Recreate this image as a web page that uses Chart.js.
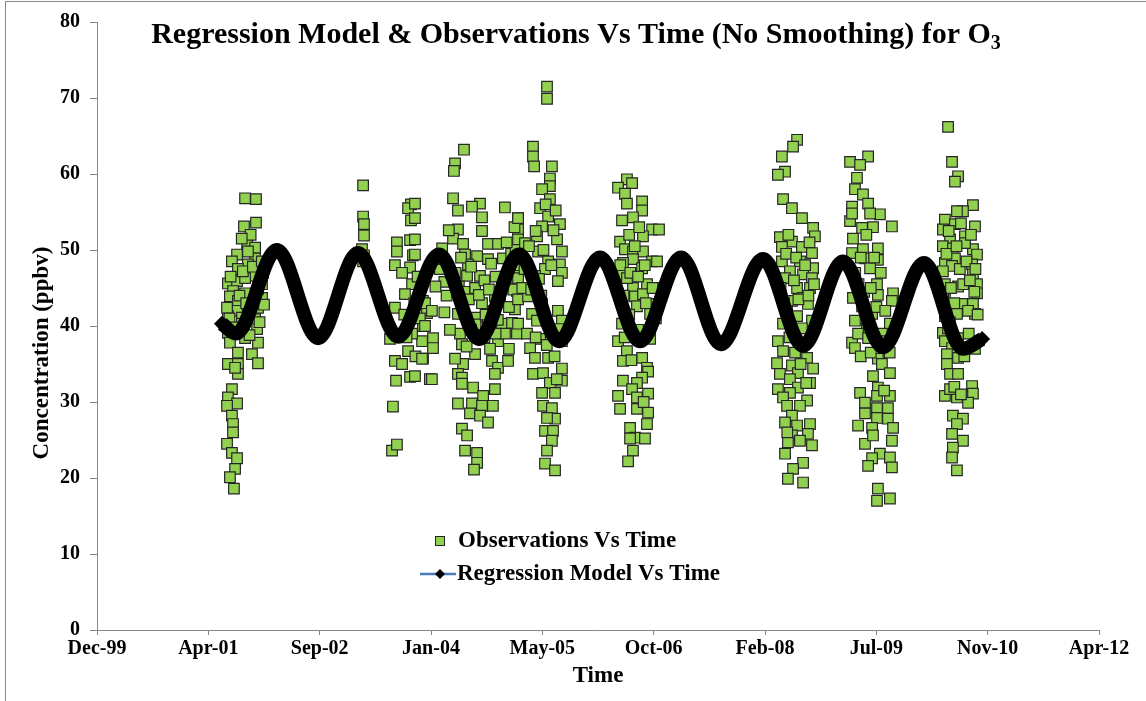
<!DOCTYPE html>
<html>
<head>
<meta charset="utf-8">
<title>Regression Model &amp; Observations Vs Time (No Smoothing) for O3</title>
<script src="https://cdn.jsdelivr.net/npm/chart.js@4.4.1/dist/chart.umd.min.js"></script>
<style>
  html, body { margin: 0; padding: 0; background: #fff; }
  #wrap { position: relative; width: 1146px; height: 701px; overflow: hidden; background: #fff; }
  #frame { position: absolute; left: 5px; top: 1px; width: 1200px; height: 800px;
           border-left: 1px solid #8a8a8a; border-top: 1px solid #8a8a8a; pointer-events: none; }
  canvas { position: absolute; left: 0; top: 0; }
</style>
</head>
<body>
<div id="wrap">
  <canvas id="chart" width="1146" height="701"></canvas>
  <div id="frame"></div>
</div>
<script>
// x axis is in Excel serial days, one tick every 500 days
const xStart = 36500;
const xStep = 500;
const xTickLabels = ["Dec-99", "Apr-01", "Sep-02", "Jan-04", "May-05", "Oct-06", "Feb-08", "Jul-09", "Nov-10", "Apr-12"];

// regression model: start, troughs/peaks, end
const modelDays = [37061, 37124, 37308, 37493, 37672, 37852, 38036, 38216, 38395, 38575, 38759,
                   38939, 39123, 39302, 39491, 39671, 39850, 40030, 40214, 40389, 40475];
const modelValues = [40.3, 39.0, 50.0, 38.4, 49.6, 38.6, 49.4, 38.3, 49.4, 38.0, 49.0,
                     38.0, 49.0, 37.6, 48.8, 37.4, 48.5, 37.2, 48.3, 37.0, 38.3];

// observations [day, ppbv], one list per measuring campaign
const obs2001 = [[37165,56.8],[37214,56.7],[37160,53.1],[37214,53.6],[37174,50.8],[37210,50.3],[37129,49.4],[37210,48.9],
  [37106,48.5],[37178,48.1],[37133,47.5],[37088,45.6],[37129,45.9],[37241,45.5],[37111,44.6],[37165,44.3],[37241,43.7],
  [37097,43.9],[37133,43.3],[37223,42.4],[37129,42.0],[37088,41.3],[37151,41.1],[37210,40.9],[37219,39.6],[37088,39.1],
  [37165,38.4],[37223,37.8],[37097,37.8],[37133,36.5],[37196,36.3],[37223,35.1],[37088,35.0],[37133,35.0],[37133,33.7],
  [37120,34.5],[37178,49.8],[37196,46.6],[37165,46.3],[37223,44.9],[37210,43.0],[37084,42.4],[37178,42.2],[37151,40.3],
  [37250,42.8],[37246,47.0],[37190,52.0],[37150,51.5],[37100,46.5],[37095,41.0],
  [37155,47.2],[37140,44.0],[37200,47.8],[37230,40.5],[37120,39.8],[37185,38.8],[37240,48.5],[37170,43.0],
  [37106,31.7],[37088,30.6],[37129,29.8],[37084,29.5],[37106,28.2],[37111,27.1],[37111,26.0],[37084,24.5],[37106,23.3],
  [37129,22.6],[37120,21.2],[37097,20.1],[37115,18.6]];
const obs2003a = [[37695,58.5],[37695,54.4],[37699,53.4],[37699,51.9],[37690,50.1],[37695,48.5],[37699,49.3]];
const obs2003b = [[37910,56.0],[37897,55.5],[37910,53.9],[37847,51.0],[37906,51.3],[37847,49.8],[37919,49.3],[37838,48.0],
  [37906,47.7],[37915,45.5],[37883,44.2],[37964,43.3],[37838,42.4],[37982,41.7],[37897,40.7],[37964,40.0],[37816,38.3],
  [37960,38.0],[37915,39.0],[37964,35.7],[37897,36.7],[37838,35.4],[37843,32.8],[37906,33.3],[37995,33.0],[37829,29.4],
  [37825,23.6],[37847,24.4],[37870,47.0],[37880,41.5],[37890,38.5],[37925,43.0],[37940,46.5],[37950,41.0],[37870,35.0],
  [37930,36.0]];
const obs2004 = [[38148,63.2],[38108,61.4],[38103,60.4],[38099,56.8],[38121,55.2],[38220,56.1],[38184,55.7],[38229,54.3],
  [38332,55.6],[38391,54.2],[38121,52.7],[38099,51.5],[38229,52.5],[38144,50.8],[38256,50.8],[38301,50.8],[38391,52.7],
  [38391,51.4],[38153,49.4],[38207,49.2],[38256,48.8],[38166,48.1],[38220,46.6],[38162,46.6],[38198,45.0],[38323,48.9],
  [38377,47.6],[38319,45.5],[38386,44.6],[38287,43.9],[38377,42.2],[38229,43.0],[38139,42.9],[38121,41.6],[38207,41.1],
  [38319,40.3],[38364,40.4],[38386,39.0],[38301,38.0],[38332,39.0],[38130,39.0],[38139,37.6],[38198,36.3],[38144,35.0],
  [38274,35.4],[38301,34.5],[38346,35.4],[38108,35.7],[38121,33.7],[38139,33.2],[38287,33.7],[38139,32.4],[38189,31.9],
  [38287,31.7],[38234,30.8],[38121,29.8],[38184,29.8],[38229,29.5],[38278,29.5],[38175,28.5],[38220,28.2],[38256,27.3],
  [38139,26.5],[38162,25.6],[38153,23.6],[38207,23.3],[38207,22.0],[38193,21.1],
  [37928,56.1],[37928,54.2],[37928,51.4],[37928,49.4],[37973,43.0],[38004,42.0],[37973,40.0],[38009,38.4],[38009,37.1],
  [37960,35.7],[38004,33.0],[37928,33.4],[38040,47.5],[38060,45.8],[38050,50.2],[38070,44.0],[38030,48.8],[38080,52.6],
  [38090,47.0],[38020,45.2],[38060,41.8],[38085,39.5],
  [38110,47.0],[38125,45.2],[38135,49.0],[38150,44.5],[38170,43.5],[38180,47.8],[38200,40.2],[38215,44.1],[38240,46.0],
  [38245,41.5],[38260,44.8],[38270,48.2],[38280,42.0],[38290,46.5],[38300,40.8],[38310,43.2],[38340,45.5],[38350,42.5],
  [38360,49.5],[38370,44.8],[38380,50.0],[38240,38.5],[38265,37.0],[38290,39.0],[38180,39.5],[38160,37.3],[38350,37.0],
  [38395,48.0],[38375,53.0],[38340,51.0]];
const obs2005 = [[38521,71.5],[38521,69.9],[38458,63.6],[38458,62.3],[38463,61.0],[38543,61.0],[38534,59.4],[38534,58.4],
  [38499,58.0],[38534,56.7],[38490,55.5],[38526,54.4],[38579,53.4],[38391,54.2],[38499,53.1],[38476,51.8],[38566,51.4],
  [38422,50.9],[38481,49.8],[38588,49.8],[38526,48.5],[38579,48.1],[38588,47.0],[38570,45.9],[38512,47.5],[38467,46.6],
  [38391,46.3],[38391,43.5],[38436,43.9],[38499,42.9],[38454,41.6],[38391,40.3],[38431,39.0],[38490,38.3],[38570,42.0],
  [38588,40.7],[38579,39.6],[38588,38.0],[38476,40.7],[38445,37.1],[38467,35.8],[38526,35.8],[38458,33.7],[38503,33.8],
  [38588,34.4],[38588,32.8],[38534,32.5],[38499,31.2],[38557,31.2],[38503,29.5],[38543,29.2],[38557,27.8],[38521,27.9],
  [38512,26.2],[38548,26.2],[38543,24.9],[38521,23.6],[38512,21.9],[38557,21.0],
  [38400,48.8],[38410,45.0],[38420,47.5],[38440,50.5],[38450,44.8],[38470,52.5],[38485,46.2],[38495,44.0],[38505,50.0],
  [38515,56.0],[38550,52.6],[38560,55.2],[38540,48.0],[38470,38.5],[38520,37.5],[38555,36.0],[38565,33.0]];
const obs2006 = [[38880,59.3],[38903,58.8],[38840,58.2],[38871,57.4],[38880,56.1],[38948,56.4],[38948,55.2],[38907,54.3],
  [38858,53.9],[38993,52.7],[38952,51.8],[38849,51.1],[38871,50.1],[38907,49.8],[38952,49.8],[38993,48.5],[38907,48.8],
  [38948,47.6],[38862,48.3],[38858,46.8],[38970,45.5],[38907,45.0],[38880,46.3],[38916,43.9],[38952,44.2],[38984,42.9],
  [38925,42.6],[38984,41.6],[38858,40.3],[38840,38.0],[38903,39.3],[38984,38.3],[38880,36.7],[38862,35.4],[38948,35.8],
  [38970,34.5],[38975,34.0],[38948,33.2],[38862,32.8],[38925,32.5],[38840,30.8],[38903,31.7],[38975,31.1],[38925,30.6],
  [38849,29.1],[38925,29.1],[38975,28.6],[38970,27.1],[38894,26.6],[38916,25.3],[38894,25.2],[38961,25.2],[38907,23.6],
  [38885,22.2],[39024,52.7],[39015,48.5],[39020,45.0],[39010,41.0],
  [38850,48.0],[38865,44.0],[38890,52.0],[38895,47.0],[38915,50.5],[38930,46.5],[38935,53.0],[38960,48.0],[38965,43.0],
  [38890,41.5],[38930,39.5],[38900,35.5],[38870,38.5],[38955,30.0],[38995,45.0]];
const obs2008 = [[39644,64.5],[39626,63.6],[39576,62.3],[39590,60.3],[39558,59.9],[39581,56.7],[39621,55.5],[39666,54.2],
  [39716,52.9],[39724,51.8],[39567,51.7],[39621,51.1],[39666,50.4],[39576,50.4],[39711,49.6],[39576,48.5],[39657,48.5],
  [39716,47.6],[39612,47.2],[39671,46.8],[39711,46.3],[39590,46.3],[39702,45.0],[39644,45.0],[39671,43.7],[39621,43.3],
  [39693,42.9],[39599,42.0],[39644,41.3],[39711,40.7],[39581,40.3],[39666,39.7],[39558,38.0],[39581,36.7],[39554,35.1],
  [39689,35.8],[39621,34.8],[39716,34.4],[39567,33.7],[39648,33.8],[39612,33.0],[39702,32.5],[39558,31.7],[39648,31.9],
  [39612,31.2],[39689,30.2],[39581,30.6],[39657,29.5],[39599,29.5],[39621,28.2],[39590,27.3],[39702,27.1],[39644,26.9],
  [39693,25.8],[39621,25.6],[39657,24.9],[39711,24.3],[39603,24.7],[39590,23.2],[39671,22.0],[39626,21.2],[39603,19.9],
  [39671,19.4],
  [39570,45.0],[39585,43.0],[39595,49.5],[39605,52.0],[39630,46.0],[39640,49.0],[39650,43.5],[39680,48.0],[39695,44.0],
  [39700,51.0],[39720,45.5],[39610,38.5],[39635,36.5],[39660,35.0],[39685,32.5],[39600,26.0]];
const obs2009 = [[39963,62.3],[39882,61.6],[39927,61.2],[39913,59.5],[39904,58.0],[39940,57.3],[39963,56.1],[39891,55.7],
  [40016,54.7],[39972,54.8],[40070,53.1],[39985,53.0],[39936,52.9],[39882,53.8],[39891,54.8],[40007,50.2],[39940,50.1],
  [39891,49.6],[40007,48.7],[39949,48.9],[39972,47.6],[40003,45.5],[40007,44.1],[40075,44.3],[40070,43.3],[39895,43.7],
  [39936,42.6],[39981,41.6],[39904,40.7],[39958,39.7],[39891,37.8],[39918,39.0],[39904,37.1],[39963,38.4],[40061,40.3],
  [40025,39.0],[40048,38.0],[40007,35.7],[40025,35.0],[40061,33.8],[39985,33.4],[40007,31.9],[39927,31.2],[40061,30.8],
  [40003,30.8],[39949,29.9],[40052,29.2],[40003,29.2],[39949,28.5],[40003,27.9],[40052,27.8],[39918,26.9],[39981,26.6],
  [40075,26.6],[39949,24.5],[40070,24.9],[39985,25.6],[40016,23.2],[40061,22.7],[39981,22.6],[39963,21.6],[40070,21.4],
  [40007,18.6],[40003,17.0],[40061,17.3],
  [39895,51.5],[39905,47.0],[39920,45.5],[39930,49.0],[39945,44.5],[39955,52.0],[39975,45.0],[39990,49.0],[40000,42.5],
  [40020,47.0],[40040,42.0],[39930,36.0],[39975,36.5],[40035,31.5],[40060,36.5]];
const obs2010 = [[40322,66.2],[40340,61.6],[40367,59.7],[40353,59.0],[40434,55.9],[40389,55.1],[40362,55.1],[40308,54.0],
  [40299,52.7],[40353,53.4],[40443,53.1],[40398,51.8],[40331,51.4],[40299,50.5],[40434,50.1],[40344,50.2],[40398,50.9],
  [40452,49.4],[40353,48.9],[40308,48.3],[40430,48.1],[40340,47.9],[40434,46.8],[40299,47.2],[40452,45.5],[40367,45.2],
  [40308,45.5],[40452,44.3],[40434,42.9],[40385,42.9],[40308,43.5],[40443,41.6],[40412,42.0],[40362,41.6],[40308,41.3],
  [40299,39.1],[40322,39.7],[40367,38.4],[40308,38.0],[40340,37.1],[40443,37.0],[40317,36.3],[40367,35.8],[40317,35.0],
  [40331,33.7],[40367,33.7],[40430,32.1],[40434,31.1],[40308,30.8],[40362,30.6],[40412,29.9],[40331,31.7],[40344,28.2],
  [40389,27.8],[40362,27.1],[40340,25.8],[40389,24.9],[40344,24.0],[40340,22.7],[40362,21.0],
  [40300,44.5],[40315,49.5],[40325,52.5],[40335,45.0],[40350,43.0],[40360,50.5],[40375,47.5],[40380,53.5],[40390,45.5],
  [40405,48.5],[40420,46.0],[40425,52.0],[40445,47.5],[40415,39.0],[40395,36.0],[40330,40.5],[40350,32.0],[40380,31.0],
  [40440,44.5],[40455,41.5]];

const serif = "'Liberation Serif', 'Times New Roman', serif";
const axisGray = "#868686";
const obsGreen = "#92D050";

const obsPoints = [].concat(obs2001, obs2003a, obs2003b, obs2004, obs2005, obs2006, obs2008, obs2009, obs2010)
  .map(function (p) { return { x: p[0], y: p[1] }; });
const modelPoints = modelDays.map(function (d, i) { return { x: d, y: modelValues[i] }; });

// title, axis titles and the in-plot legend
const overlay = {
  id: "overlay",
  afterDraw: function (chart) {
    const ctx = chart.ctx;
    const sets = chart.data.datasets;
    ctx.save();
    ctx.fillStyle = "#000";
    ctx.textAlign = "left";
    ctx.textBaseline = "alphabetic";

    const main = "Regression Model & Observations Vs Time (No Smoothing) for O";
    ctx.font = "bold 30px " + serif;
    const wMain = ctx.measureText(main).width;
    ctx.font = "bold 20px " + serif;
    const wSub = ctx.measureText("3").width;
    const tx = 576 - (wMain + wSub) / 2;
    ctx.font = "bold 30px " + serif;
    ctx.fillText(main, tx, 43);
    ctx.font = "bold 20px " + serif;
    ctx.fillText("3", tx + wMain, 49);

    ctx.font = "bold 23px " + serif;
    ctx.textAlign = "center";
    ctx.textBaseline = "middle";
    ctx.fillText("Time", 598, 676);
    ctx.save();
    ctx.translate(42, 353);
    ctx.rotate(-Math.PI / 2);
    ctx.fillText("Concentration (ppbv)", 0, 0);
    ctx.restore();

    // legend
    ctx.textAlign = "left";
    ctx.fillStyle = obsGreen;
    ctx.strokeStyle = "#262626";
    ctx.lineWidth = 1;
    ctx.fillRect(435.5, 536.5, 9, 9);
    ctx.strokeRect(435.5, 536.5, 9, 9);
    ctx.fillStyle = "#000";
    ctx.fillText(sets[1].label, 458, 541);

    ctx.strokeStyle = "#4A7EBB";
    ctx.lineWidth = 2.5;
    ctx.beginPath();
    ctx.moveTo(420, 574);
    ctx.lineTo(456, 574);
    ctx.stroke();
    ctx.fillStyle = "#000";
    ctx.beginPath();
    ctx.moveTo(440, 569);
    ctx.lineTo(445, 574);
    ctx.lineTo(440, 579);
    ctx.lineTo(435, 574);
    ctx.closePath();
    ctx.fill();
    ctx.fillText(sets[0].label, 457, 574);
    ctx.restore();
  }
};

const tickFont = { family: serif, size: 20, weight: "bold" };

new Chart(document.getElementById("chart"), {
  type: "scatter",
  data: {
    datasets: [
      {
        label: "Regression Model Vs Time",
        data: modelPoints,
        showLine: true,
        borderColor: "#000",
        borderWidth: 14,
        borderJoinStyle: "round",
        cubicInterpolationMode: "monotone",
        pointStyle: "rectRot",
        pointRadius: function (c) { return (c.dataIndex === 0 || c.dataIndex === modelDays.length - 1) ? 8 : 0; },
        pointBackgroundColor: "#000",
        pointBorderWidth: 0,
        order: 1
      },
      {
        label: "Observations Vs Time",
        data: obsPoints,
        pointStyle: "rect",
        pointRadius: 7.5,
        backgroundColor: obsGreen,
        borderColor: "#262626",
        borderWidth: 1.2,
        order: 2
      }
    ]
  },
  options: {
    responsive: false,
    animation: false,
    layout: { padding: { top: 20, right: 47, left: 0, bottom: 0 } },
    plugins: {
      legend: { display: false },
      title: { display: false },
      tooltip: { enabled: false }
    },
    scales: {
      x: {
        type: "linear",
        min: xStart,
        max: xStart + xStep * (xTickLabels.length - 1),
        afterFit: function (scale) { scale.height = 71; },
        ticks: {
          stepSize: xStep,
          autoSkip: false,
          maxRotation: 0,
          padding: 2,
          color: "#000",
          font: tickFont,
          callback: function (v) { return xTickLabels[Math.round((v - xStart) / xStep)]; }
        },
        grid: { drawOnChartArea: false, tickLength: 5, color: axisGray },
        border: { color: axisGray }
      },
      y: {
        min: 0,
        max: 80,
        afterFit: function (scale) { scale.width = 97; },
        ticks: { stepSize: 10, padding: 10, color: "#000", font: tickFont },
        grid: { drawOnChartArea: false, tickLength: 7, color: axisGray },
        border: { color: axisGray }
      }
    }
  },
  plugins: [overlay]
});
</script>
</body>
</html>
